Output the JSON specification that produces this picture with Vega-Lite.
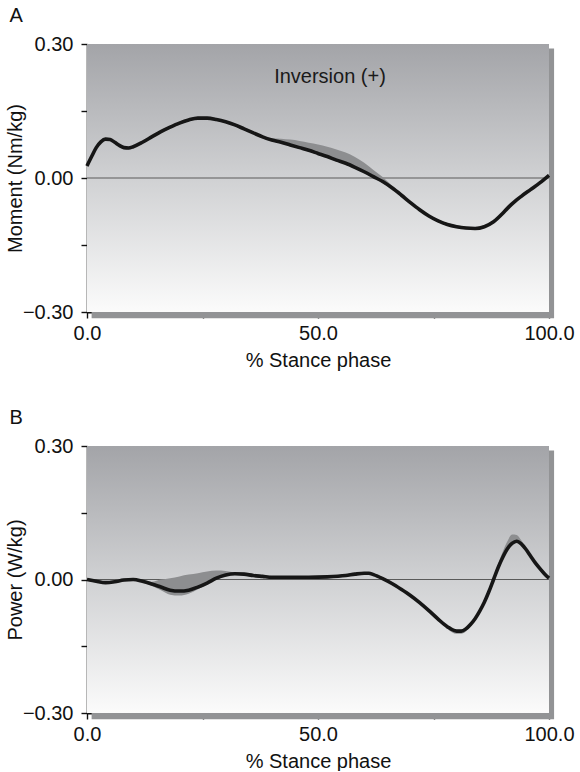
{
  "$schema": "https://vega.github.io/schema/vega-lite/v6.json",
  "padding": {"left": 5, "top": 6, "right": 2, "bottom": 0},
  "spacing": 38,
  "config": {
    "font": "Liberation Sans",
    "view": {"stroke": null},
    "axis": {
      "grid": false,
      "zindex": 1,
      "domainColor": "#111111",
      "domainWidth": 1.6,
      "tickColor": "#111111",
      "tickWidth": 1.4,
      "tickSize": 6,
      "labelFontSize": 20,
      "titleFontSize": 20,
      "titleFontWeight": "normal",
      "labelColor": "#111111",
      "titleColor": "#111111",
      "labelFlush": false,
      "labelOverlap": false
    },
    "axisX": {"labelPadding": 5, "titlePadding": 7, "domainWidth": 2.2},
    "axisY": {"labelPadding": 8, "titlePadding": -3},
    "title": {"fontSize": 20, "fontWeight": "normal", "color": "#111111", "anchor": "start", "frame": "bounds", "offset": 8, "dx": 4}
  },
  "datasets": {
    "moment": [
      {"pct": 0, "mean": 0.027, "lo": 0.024, "hi": 0.030},
      {"pct": 1, "mean": 0.048, "lo": 0.045, "hi": 0.051},
      {"pct": 2, "mean": 0.068, "lo": 0.065, "hi": 0.071},
      {"pct": 3, "mean": 0.081, "lo": 0.078, "hi": 0.084},
      {"pct": 4, "mean": 0.087, "lo": 0.084, "hi": 0.090},
      {"pct": 5, "mean": 0.086, "lo": 0.083, "hi": 0.089},
      {"pct": 6, "mean": 0.080, "lo": 0.077, "hi": 0.083},
      {"pct": 7, "mean": 0.073, "lo": 0.070, "hi": 0.076},
      {"pct": 8, "mean": 0.068, "lo": 0.065, "hi": 0.071},
      {"pct": 9, "mean": 0.067, "lo": 0.064, "hi": 0.070},
      {"pct": 10, "mean": 0.070, "lo": 0.067, "hi": 0.073},
      {"pct": 12, "mean": 0.080, "lo": 0.077, "hi": 0.083},
      {"pct": 14, "mean": 0.092, "lo": 0.089, "hi": 0.095},
      {"pct": 16, "mean": 0.104, "lo": 0.101, "hi": 0.107},
      {"pct": 18, "mean": 0.114, "lo": 0.111, "hi": 0.117},
      {"pct": 20, "mean": 0.123, "lo": 0.120, "hi": 0.126},
      {"pct": 22, "mean": 0.130, "lo": 0.127, "hi": 0.133},
      {"pct": 24, "mean": 0.134, "lo": 0.131, "hi": 0.137},
      {"pct": 26, "mean": 0.134, "lo": 0.131, "hi": 0.137},
      {"pct": 28, "mean": 0.131, "lo": 0.128, "hi": 0.134},
      {"pct": 30, "mean": 0.126, "lo": 0.123, "hi": 0.129},
      {"pct": 32, "mean": 0.119, "lo": 0.116, "hi": 0.122},
      {"pct": 34, "mean": 0.110, "lo": 0.107, "hi": 0.113},
      {"pct": 36, "mean": 0.101, "lo": 0.098, "hi": 0.104},
      {"pct": 38, "mean": 0.092, "lo": 0.089, "hi": 0.094},
      {"pct": 40, "mean": 0.085, "lo": 0.082, "hi": 0.089},
      {"pct": 42, "mean": 0.080, "lo": 0.077, "hi": 0.088},
      {"pct": 44, "mean": 0.074, "lo": 0.071, "hi": 0.086},
      {"pct": 46, "mean": 0.068, "lo": 0.065, "hi": 0.083},
      {"pct": 48, "mean": 0.062, "lo": 0.059, "hi": 0.079},
      {"pct": 50, "mean": 0.055, "lo": 0.052, "hi": 0.075},
      {"pct": 52, "mean": 0.048, "lo": 0.045, "hi": 0.070},
      {"pct": 54, "mean": 0.040, "lo": 0.037, "hi": 0.064},
      {"pct": 56, "mean": 0.033, "lo": 0.030, "hi": 0.057},
      {"pct": 58, "mean": 0.024, "lo": 0.021, "hi": 0.047},
      {"pct": 60, "mean": 0.014, "lo": 0.011, "hi": 0.034},
      {"pct": 62, "mean": 0.003, "lo": 0.000, "hi": 0.018},
      {"pct": 64, "mean": -0.008, "lo": -0.011, "hi": 0.002},
      {"pct": 66, "mean": -0.022, "lo": -0.025, "hi": -0.017},
      {"pct": 68, "mean": -0.038, "lo": -0.041, "hi": -0.035},
      {"pct": 70, "mean": -0.055, "lo": -0.058, "hi": -0.052},
      {"pct": 72, "mean": -0.071, "lo": -0.074, "hi": -0.068},
      {"pct": 74, "mean": -0.085, "lo": -0.088, "hi": -0.082},
      {"pct": 76, "mean": -0.096, "lo": -0.099, "hi": -0.093},
      {"pct": 78, "mean": -0.104, "lo": -0.107, "hi": -0.101},
      {"pct": 80, "mean": -0.109, "lo": -0.112, "hi": -0.106},
      {"pct": 82, "mean": -0.112, "lo": -0.115, "hi": -0.109},
      {"pct": 84, "mean": -0.113, "lo": -0.116, "hi": -0.110},
      {"pct": 86, "mean": -0.109, "lo": -0.112, "hi": -0.106},
      {"pct": 88, "mean": -0.098, "lo": -0.101, "hi": -0.095},
      {"pct": 90, "mean": -0.079, "lo": -0.082, "hi": -0.076},
      {"pct": 91, "mean": -0.068, "lo": -0.071, "hi": -0.065},
      {"pct": 92, "mean": -0.058, "lo": -0.061, "hi": -0.055},
      {"pct": 93, "mean": -0.049, "lo": -0.052, "hi": -0.046},
      {"pct": 94, "mean": -0.041, "lo": -0.044, "hi": -0.038},
      {"pct": 96, "mean": -0.026, "lo": -0.029, "hi": -0.023},
      {"pct": 98, "mean": -0.011, "lo": -0.014, "hi": -0.008},
      {"pct": 100, "mean": 0.006, "lo": 0.003, "hi": 0.009}
    ],
    "power": [
      {"pct": 0, "mean": 0.000, "lo": -0.003, "hi": 0.003},
      {"pct": 2, "mean": -0.004, "lo": -0.007, "hi": -0.001},
      {"pct": 4, "mean": -0.007, "lo": -0.010, "hi": -0.004},
      {"pct": 6, "mean": -0.005, "lo": -0.008, "hi": -0.002},
      {"pct": 8, "mean": -0.001, "lo": -0.004, "hi": 0.002},
      {"pct": 10, "mean": 0.000, "lo": -0.003, "hi": 0.003},
      {"pct": 12, "mean": -0.004, "lo": -0.007, "hi": -0.001},
      {"pct": 14, "mean": -0.010, "lo": -0.014, "hi": -0.005},
      {"pct": 16, "mean": -0.017, "lo": -0.024, "hi": 0.000},
      {"pct": 18, "mean": -0.024, "lo": -0.034, "hi": 0.003},
      {"pct": 20, "mean": -0.026, "lo": -0.036, "hi": 0.007},
      {"pct": 22, "mean": -0.024, "lo": -0.032, "hi": 0.011},
      {"pct": 24, "mean": -0.017, "lo": -0.022, "hi": 0.014},
      {"pct": 26, "mean": -0.008, "lo": -0.011, "hi": 0.018},
      {"pct": 28, "mean": 0.003, "lo": 0.000, "hi": 0.020},
      {"pct": 30, "mean": 0.010, "lo": 0.007, "hi": 0.019},
      {"pct": 32, "mean": 0.013, "lo": 0.010, "hi": 0.016},
      {"pct": 34, "mean": 0.012, "lo": 0.009, "hi": 0.015},
      {"pct": 36, "mean": 0.009, "lo": 0.006, "hi": 0.012},
      {"pct": 38, "mean": 0.007, "lo": 0.004, "hi": 0.010},
      {"pct": 40, "mean": 0.005, "lo": 0.002, "hi": 0.008},
      {"pct": 44, "mean": 0.005, "lo": 0.002, "hi": 0.008},
      {"pct": 48, "mean": 0.005, "lo": 0.002, "hi": 0.008},
      {"pct": 52, "mean": 0.006, "lo": 0.003, "hi": 0.009},
      {"pct": 56, "mean": 0.009, "lo": 0.006, "hi": 0.012},
      {"pct": 58, "mean": 0.012, "lo": 0.009, "hi": 0.015},
      {"pct": 60, "mean": 0.014, "lo": 0.011, "hi": 0.017},
      {"pct": 61, "mean": 0.014, "lo": 0.011, "hi": 0.017},
      {"pct": 62, "mean": 0.011, "lo": 0.008, "hi": 0.014},
      {"pct": 64, "mean": 0.002, "lo": -0.001, "hi": 0.005},
      {"pct": 66, "mean": -0.009, "lo": -0.012, "hi": -0.006},
      {"pct": 68, "mean": -0.022, "lo": -0.025, "hi": -0.019},
      {"pct": 70, "mean": -0.036, "lo": -0.039, "hi": -0.033},
      {"pct": 72, "mean": -0.052, "lo": -0.055, "hi": -0.049},
      {"pct": 74, "mean": -0.070, "lo": -0.073, "hi": -0.067},
      {"pct": 76, "mean": -0.089, "lo": -0.094, "hi": -0.086},
      {"pct": 78, "mean": -0.106, "lo": -0.111, "hi": -0.103},
      {"pct": 80, "mean": -0.116, "lo": -0.122, "hi": -0.113},
      {"pct": 81, "mean": -0.116, "lo": -0.122, "hi": -0.113},
      {"pct": 82, "mean": -0.111, "lo": -0.117, "hi": -0.108},
      {"pct": 83, "mean": -0.101, "lo": -0.105, "hi": -0.098},
      {"pct": 84, "mean": -0.088, "lo": -0.091, "hi": -0.085},
      {"pct": 85, "mean": -0.071, "lo": -0.074, "hi": -0.068},
      {"pct": 86, "mean": -0.051, "lo": -0.054, "hi": -0.048},
      {"pct": 87, "mean": -0.027, "lo": -0.030, "hi": -0.024},
      {"pct": 88, "mean": 0.000, "lo": -0.003, "hi": 0.006},
      {"pct": 89, "mean": 0.027, "lo": 0.024, "hi": 0.036},
      {"pct": 90, "mean": 0.050, "lo": 0.047, "hi": 0.063},
      {"pct": 91, "mean": 0.069, "lo": 0.066, "hi": 0.086},
      {"pct": 92, "mean": 0.081, "lo": 0.078, "hi": 0.101},
      {"pct": 93, "mean": 0.086, "lo": 0.083, "hi": 0.100},
      {"pct": 94, "mean": 0.080, "lo": 0.077, "hi": 0.088},
      {"pct": 95, "mean": 0.068, "lo": 0.065, "hi": 0.071},
      {"pct": 96, "mean": 0.053, "lo": 0.050, "hi": 0.056},
      {"pct": 97, "mean": 0.038, "lo": 0.035, "hi": 0.041},
      {"pct": 98, "mean": 0.025, "lo": 0.022, "hi": 0.028},
      {"pct": 99, "mean": 0.013, "lo": 0.010, "hi": 0.016},
      {"pct": 100, "mean": 0.003, "lo": 0.000, "hi": 0.006}
    ]
  },
  "vconcat": [
    {
      "width": 462,
      "height": 268,
      "title": {"text": "A"},
      "layer": [
        {
          "data": {"values": [{}]},
          "mark": {"type": "rect", "fill": "#929395"},
          "encoding": {
            "x": {"datum": 1, "type": "quantitative", "scale": {"domain": [0, 100], "nice": false, "zero": false}},
            "x2": {"datum": 101.1},
            "y": {"datum": -0.314, "type": "quantitative", "scale": {"domain": [-0.3, 0.3], "nice": false}},
            "y2": {"datum": 0.29}
          }
        },
        {
          "data": {"values": [{}]},
          "mark": {"type": "rect", "fill": {"gradient": "linear", "x1": 0, "y1": 0, "x2": 0, "y2": 1, "stops": [{"offset": 0, "color": "#a3a4a8"}, {"offset": 0.5, "color": "#d0d1d3"}, {"offset": 1, "color": "#fbfbfb"}]}},
          "encoding": {
            "x": {"datum": 0, "type": "quantitative", "scale": {"domain": [0, 100], "nice": false, "zero": false}},
            "x2": {"datum": 100},
            "y": {"datum": -0.3, "type": "quantitative", "scale": {"domain": [-0.3, 0.3], "nice": false}},
            "y2": {"datum": 0.3}
          }
        },
        {
          "data": {"values": [{}]},
          "mark": {"type": "rule", "color": "#5a5a5a", "strokeWidth": 1.2},
          "encoding": {
            "y": {"datum": 0, "type": "quantitative", "scale": {"domain": [-0.3, 0.3], "nice": false}}
          }
        },
        {
          "data": {"name": "moment"},
          "mark": {"type": "area", "color": "#8d8e90", "interpolate": "monotone"},
          "encoding": {
            "x": {"field": "pct", "type": "quantitative", "scale": {"domain": [0, 100], "nice": false, "zero": false}},
            "y": {"field": "lo", "type": "quantitative", "scale": {"domain": [-0.3, 0.3], "nice": false}},
            "y2": {"field": "hi"}
          }
        },
        {
          "data": {"name": "moment"},
          "mark": {"type": "line", "color": "#161616", "strokeWidth": 3.6, "interpolate": "monotone"},
          "encoding": {
            "x": {"field": "pct", "type": "quantitative", "scale": {"domain": [0, 100], "nice": false, "zero": false},
              "axis": {"title": "% Stance phase", "values": [0, 25, 50, 75, 100], "labelExpr": "datum.value % 50 == 0 ? format(datum.value, '.1f') : ''"}},
            "y": {"field": "mean", "type": "quantitative", "scale": {"domain": [-0.3, 0.3], "nice": false},
              "axis": {"title": "Moment (Nm/kg)", "values": [-0.3, -0.15, 0, 0.15, 0.3], "labelExpr": "abs(datum.value) > 0.1 && abs(datum.value) < 0.2 ? '' : format(datum.value, '.2f')"}}
          }
        },
        {
          "data": {"values": [{"label": "Inversion (+)"}]},
          "mark": {"type": "text", "fontSize": 20, "color": "#1a1a1a", "align": "center", "baseline": "middle"},
          "encoding": {
            "x": {"datum": 52.6, "type": "quantitative", "scale": {"domain": [0, 100], "nice": false, "zero": false}},
            "y": {"datum": 0.226, "type": "quantitative", "scale": {"domain": [-0.3, 0.3], "nice": false}},
            "text": {"field": "label"}
          }
        }
      ]
    },
    {
      "width": 462,
      "height": 267,
      "title": {"text": "B"},
      "layer": [
        {
          "data": {"values": [{}]},
          "mark": {"type": "rect", "fill": "#929395"},
          "encoding": {
            "x": {"datum": 1, "type": "quantitative", "scale": {"domain": [0, 100], "nice": false, "zero": false}},
            "x2": {"datum": 101.1},
            "y": {"datum": -0.314, "type": "quantitative", "scale": {"domain": [-0.3, 0.3], "nice": false}},
            "y2": {"datum": 0.29}
          }
        },
        {
          "data": {"values": [{}]},
          "mark": {"type": "rect", "fill": {"gradient": "linear", "x1": 0, "y1": 0, "x2": 0, "y2": 1, "stops": [{"offset": 0, "color": "#a3a4a8"}, {"offset": 0.5, "color": "#d0d1d3"}, {"offset": 1, "color": "#fbfbfb"}]}},
          "encoding": {
            "x": {"datum": 0, "type": "quantitative", "scale": {"domain": [0, 100], "nice": false, "zero": false}},
            "x2": {"datum": 100},
            "y": {"datum": -0.3, "type": "quantitative", "scale": {"domain": [-0.3, 0.3], "nice": false}},
            "y2": {"datum": 0.3}
          }
        },
        {
          "data": {"values": [{}]},
          "mark": {"type": "rule", "color": "#5a5a5a", "strokeWidth": 1.2},
          "encoding": {
            "y": {"datum": 0, "type": "quantitative", "scale": {"domain": [-0.3, 0.3], "nice": false}}
          }
        },
        {
          "data": {"name": "power"},
          "mark": {"type": "area", "color": "#8d8e90", "interpolate": "monotone"},
          "encoding": {
            "x": {"field": "pct", "type": "quantitative", "scale": {"domain": [0, 100], "nice": false, "zero": false}},
            "y": {"field": "lo", "type": "quantitative", "scale": {"domain": [-0.3, 0.3], "nice": false}},
            "y2": {"field": "hi"}
          }
        },
        {
          "data": {"name": "power"},
          "mark": {"type": "line", "color": "#161616", "strokeWidth": 3.6, "interpolate": "monotone"},
          "encoding": {
            "x": {"field": "pct", "type": "quantitative", "scale": {"domain": [0, 100], "nice": false, "zero": false},
              "axis": {"title": "% Stance phase", "values": [0, 25, 50, 75, 100], "labelExpr": "datum.value % 50 == 0 ? format(datum.value, '.1f') : ''"}},
            "y": {"field": "mean", "type": "quantitative", "scale": {"domain": [-0.3, 0.3], "nice": false},
              "axis": {"title": "Power (W/kg)", "values": [-0.3, -0.15, 0, 0.15, 0.3], "labelExpr": "abs(datum.value) > 0.1 && abs(datum.value) < 0.2 ? '' : format(datum.value, '.2f')"}}
          }
        }
      ]
    }
  ]
}
